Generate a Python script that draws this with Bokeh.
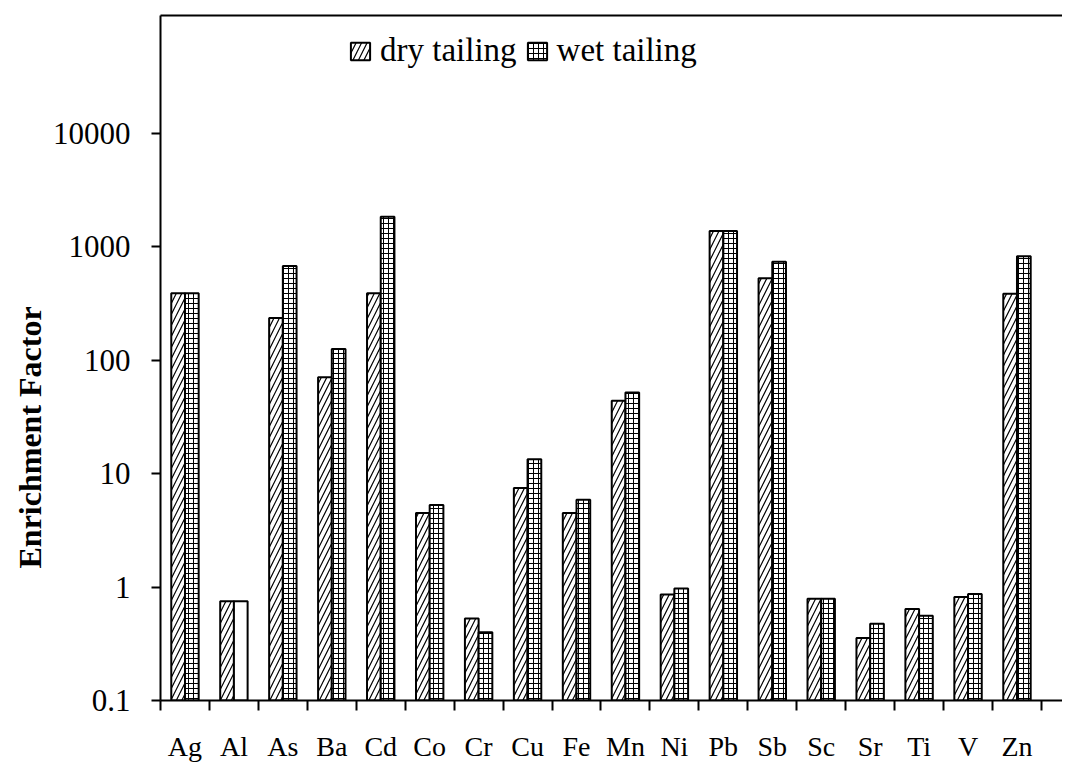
from bokeh.plotting import figure
from bokeh.models import (ColumnDataSource, FixedTicker, CustomJSTickFormatter,
                          LinearAxis, Range1d, Legend, LegendItem, Title)
from bokeh.embed import file_html
from bokeh.resources import INLINE

# ---- data ----
elements = ["Ag", "Al", "As", "Ba", "Cd", "Co", "Cr", "Cu", "Fe",
            "Mn", "Ni", "Pb", "Sb", "Sc", "Sr", "Ti", "V", "Zn"]
dry_tailing = [390, 0.75, 236, 71, 390, 4.5, 0.53, 7.5, 4.5,
               44, 0.86, 1380, 530, 0.79, 0.356, 0.64, 0.82, 386]
wet_tailing = [390, 0.75, 680, 126, 1850, 5.3, 0.40, 13.4, 5.9,
               52, 0.97, 1380, 740, 0.79, 0.476, 0.56, 0.87, 830]
y_ticks = [0.1, 1, 10, 100, 1000, 10000]
y_title = "Enrichment Factor"

SERIF = "Liberation Serif"
n = len(elements)
centers = [i + 0.5 for i in range(n)]
bw = 0.28

wet_hatch = ["+" if e != "Al" else " " for e in elements]

src_dry = ColumnDataSource(dict(x=[c - bw / 2 for c in centers], top=dry_tailing))
src_wet = ColumnDataSource(dict(x=[c + bw / 2 for c in centers], top=wet_tailing, hatch=wet_hatch))

p = figure(frame_width=902, frame_height=685,
           x_range=Range1d(0, 18.43), y_range=Range1d(0.1, 1.1e5),
           y_axis_type="log", output_backend="svg", toolbar_location=None,
           min_border_left=160, min_border_right=0, min_border_top=15,
           min_border_bottom=62, background_fill_color="white",
           border_fill_color="white", outline_line_color=None)
p.grid.visible = False

r1 = p.vbar(x="x", top="top", bottom=0.1, width=bw, source=src_dry,
            fill_color="white", line_color="black", line_width=2,
            hatch_pattern="/", hatch_color="black", hatch_scale=11, hatch_weight=1.2)
r2 = p.vbar(x="x", top="top", bottom=0.1, width=bw, source=src_wet,
            fill_color="white", line_color="black", line_width=2,
            hatch_pattern="hatch", hatch_color="black", hatch_scale=5, hatch_weight=1)

# x axis: labels at centers, tick marks at category boundaries
xa = p.xaxis[0]
xa.ticker = FixedTicker(ticks=centers, minor_ticks=list(range(n + 1)))
xa.formatter = CustomJSTickFormatter(args=dict(names=elements),
                                     code="return names[Math.floor(tick)] || '';")
xa.major_tick_out = 0
xa.major_tick_in = 0
xa.minor_tick_out = 10
xa.minor_tick_in = 0
xa.minor_tick_line_color = "black"
xa.minor_tick_line_width = 2
xa.axis_line_width = 2
xa.axis_line_color = "black"
xa.major_label_standoff = 20
xa.major_label_text_font = SERIF
xa.major_label_text_font_size = "28px"
xa.major_label_text_color = "black"

ya = p.yaxis[0]
ya.ticker = FixedTicker(ticks=y_ticks, minor_ticks=[])
ya.formatter = CustomJSTickFormatter(code="return tick < 1 ? tick.toFixed(1) : tick.toFixed(0);")
ya.major_tick_out = 9
ya.major_tick_in = 0
ya.minor_tick_out = 0
ya.major_tick_line_width = 2
ya.axis_line_width = 2
ya.axis_line_color = "black"
ya.major_label_standoff = 21
ya.major_label_text_font = SERIF
ya.major_label_text_font_size = "31px"
ya.major_label_text_color = "black"

# y title, placed lower than centre as in the reference
p.add_layout(Title(text=y_title, align="left", offset=132, standoff=4,
                   text_font=SERIF, text_font_style="bold",
                   text_font_size="32px", text_color="black"), "left")

# top frame line
top = LinearAxis(ticker=FixedTicker(ticks=[]), major_label_text_font_size="0px",
                 major_tick_out=0, major_tick_in=0, minor_tick_out=0, minor_tick_in=0,
                 major_label_standoff=0, axis_line_width=2, axis_line_color="black")
p.add_layout(top, "above")

legend = Legend(items=[LegendItem(label="dry tailing", renderers=[r1]),
                       LegendItem(label="wet tailing", renderers=[r2])],
                orientation="horizontal", location=(188, 631),
                border_line_color=None, background_fill_alpha=0,
                label_text_font=SERIF, label_text_font_size="33px",
                label_text_color="black",
                glyph_width=24, glyph_height=22, padding=0, spacing=8,
                label_standoff=8, margin=0)
p.add_layout(legend)

open("out.html", "w").write(file_html(p, INLINE))
